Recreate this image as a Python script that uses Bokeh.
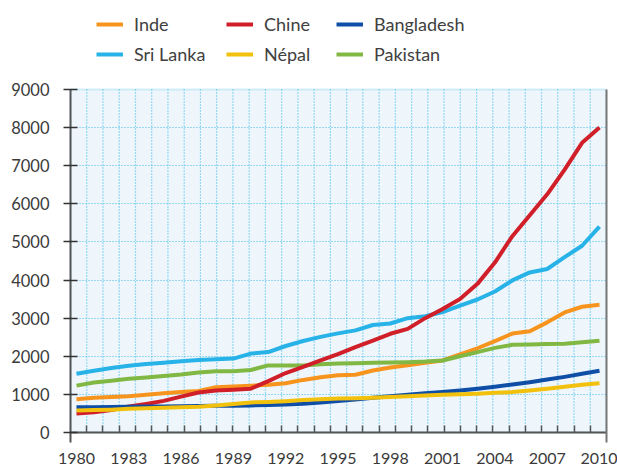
import numpy as np
from bokeh.plotting import figure
from bokeh.models import (Range1d, FixedTicker, LinearAxis, Legend, LegendItem, Grid,
                          BoxAnnotation)
from bokeh.embed import file_html
from bokeh.resources import INLINE

# ---------------- data ----------------
years = list(range(1980, 2011))
inde = [870, 910, 930, 950, 990, 1030, 1060, 1090, 1190, 1210, 1230, 1250, 1290, 1380, 1450,
        1500, 1515, 1625, 1705, 1765, 1830, 1890, 2050, 2210, 2400, 2595, 2655, 2890, 3150, 3300, 3350]
chine = [500, 530, 590, 680, 750, 830, 940, 1050, 1100, 1120, 1150, 1350, 1560, 1720, 1890,
         2055, 2240, 2410, 2590, 2720, 3000, 3240, 3500, 3900, 4460, 5150, 5700, 6250, 6900, 7600, 8000]
bangladesh = [660, 665, 670, 675, 680, 685, 690, 695, 700, 705, 710, 720, 735, 755, 790,
              825, 865, 910, 950, 990, 1030, 1060, 1100, 1150, 1200, 1260, 1320, 1390, 1460, 1540, 1620]
sri_lanka = [1540, 1620, 1690, 1750, 1800, 1830, 1870, 1900, 1920, 1940, 2070, 2110, 2270, 2400, 2510,
             2600, 2680, 2820, 2860, 3000, 3050, 3160, 3330, 3490, 3700, 3990, 4200, 4290, 4600, 4900, 5400]
nepal = [580, 590, 600, 620, 635, 650, 660, 675, 710, 750, 790, 800, 820, 850, 870,
         890, 900, 915, 930, 950, 970, 990, 1005, 1020, 1040, 1060, 1100, 1150, 1200, 1250, 1295]
pakistan = [1230, 1310, 1360, 1410, 1440, 1480, 1520, 1575, 1605, 1610, 1640, 1760, 1760, 1760, 1790,
            1810, 1820, 1830, 1835, 1845, 1860, 1890, 2000, 2110, 2220, 2300, 2310, 2320, 2330, 2370, 2410]

series_names = ["Inde", "Chine", "Bangladesh", "Sri Lanka", "Népal", "Pakistan"]
x_tick_years = list(range(1980, 2011, 3))
y_ticks = list(range(0, 9001, 1000))
Y_MAX = 9000

colors = {
    "Inde": "#f7941d",
    "Chine": "#d01f28",
    "Bangladesh": "#0f4ea6",
    "Sri Lanka": "#27b2e8",
    "Népal": "#f2c10e",
    "Pakistan": "#80b843",
}
values = {
    "Inde": inde, "Chine": chine, "Bangladesh": bangladesh,
    "Sri Lanka": sri_lanka, "Népal": nepal, "Pakistan": pakistan,
}

# ---------------- figure geometry ----------------
W, H = 617, 472
BOTTOM_BORDER = 30          # frame ends 10px below the zero line
TOP_PX, ZERO_PX, FRAME_BOTTOM_PX = 89, 432, 442
y_per_px = Y_MAX / (ZERO_PX - TOP_PX)
Y_BOTTOM = -(FRAME_BOTTOM_PX - ZERO_PX) * y_per_px
Y_TOP = Y_MAX + TOP_PX * y_per_px
X0, X1 = 1979.6558, 2010.4022

txt_col = "#3a3a3a"
ax_col = "#555555"
font_num = "Lato"

p = figure(width=W, height=H, output_backend="svg", toolbar_location=None,
           x_range=Range1d(X0, X1), y_range=Range1d(Y_BOTTOM, Y_TOP),
           min_border_left=70, min_border_right=11, min_border_top=0,
           min_border_bottom=BOTTOM_BORDER,
           background_fill_color="white", border_fill_color="white",
           x_axis_type=None, y_axis_type=None)
p.outline_line_color = None

# plot area (light blue panel with light-blue top edge)
p.add_layout(BoxAnnotation(bottom=0, top=Y_MAX, fill_color="#eef6fc", fill_alpha=1,
                           line_color="#6fcdf0", line_width=2, level="underlay"))

# decorative grid positions (33 equal intervals across the frame)
grid_x = np.linspace(X0, X1, 34)[1:-1]
p.add_layout(Grid(dimension=1, ticker=FixedTicker(ticks=y_ticks[1:-1]),
                  grid_line_color="#3dbbe9", grid_line_dash="1 2", grid_line_width=1.2))
p.segment(x0=grid_x, y0=np.zeros_like(grid_x), x1=grid_x, y1=np.full_like(grid_x, Y_MAX),
          line_color="#3dbbe9", line_dash="1 2", line_width=1.2)

# x axis line + inward ticks, sitting on the zero line (no labels)
xline = LinearAxis(ticker=FixedTicker(ticks=[], minor_ticks=list(grid_x)),
                   fixed_location=0)
xline.axis_line_color = ax_col
xline.axis_line_width = 2
xline.major_tick_in = 0
xline.major_tick_out = 0
xline.minor_tick_in = 7
xline.minor_tick_out = 0
xline.minor_tick_line_color = ax_col
xline.minor_tick_line_width = 1.5
p.add_layout(xline, "below")

# x axis year labels
xlab = LinearAxis(ticker=FixedTicker(ticks=x_tick_years))
xlab.axis_line_color = None
xlab.major_tick_line_color = None
xlab.minor_tick_line_color = None
xlab.major_tick_out = 0
xlab.major_tick_in = 0
xlab.major_label_text_font = font_num
xlab.major_label_text_font_size = "16px"
xlab.major_label_text_color = txt_col
xlab.major_label_standoff = 10
p.add_layout(xlab, "below")

yaxis = LinearAxis(ticker=FixedTicker(ticks=y_ticks), bounds=(Y_BOTTOM, Y_MAX))
yaxis.axis_line_color = ax_col
yaxis.axis_line_width = 2
yaxis.major_tick_in = 7
yaxis.major_tick_out = 7
yaxis.major_tick_line_color = "#333333"
yaxis.major_tick_line_width = 1.5
yaxis.minor_tick_line_color = None
yaxis.major_label_text_font = font_num
yaxis.major_label_text_font_size = "16.5px"
yaxis.major_label_text_color = txt_col
yaxis.major_label_standoff = 14
p.add_layout(yaxis, "left")

raxis = LinearAxis(ticker=FixedTicker(ticks=[]), bounds=(Y_BOTTOM, Y_MAX))
raxis.axis_line_color = "#777777"
raxis.axis_line_width = 2
raxis.major_tick_line_color = None
raxis.minor_tick_line_color = None
raxis.major_label_standoff = 0
p.add_layout(raxis, "right")

# ---------------- series ----------------
draw_order = ["Sri Lanka", "Inde", "Pakistan", "Chine", "Bangladesh", "Népal"]
renderers = {}
for name in draw_order:
    renderers[name] = p.line(years, values[name], line_color=colors[name], line_width=4,
                             line_join="round")

# ---------------- legend (three columns above the plot area) ----------------
columns = [["Inde", "Sri Lanka"], ["Chine", "Népal"], ["Bangladesh", "Pakistan"]]
col_x = [26, 156, 266]
for names, cx in zip(columns, col_x):
    leg = Legend(items=[LegendItem(label=n, renderers=[renderers[n]]) for n in names],
                 location=(cx, 377), orientation="vertical",
                 glyph_width=27, glyph_height=20, label_height=20, label_standoff=11,
                 spacing=8, padding=0, margin=0,
                 border_line_color=None, background_fill_alpha=0,
                 label_text_font="Lato", label_text_font_size="18px",
                 label_text_color="#404040")
    p.add_layout(leg, "center")

open("out.html", "w").write(file_html(p, INLINE))
